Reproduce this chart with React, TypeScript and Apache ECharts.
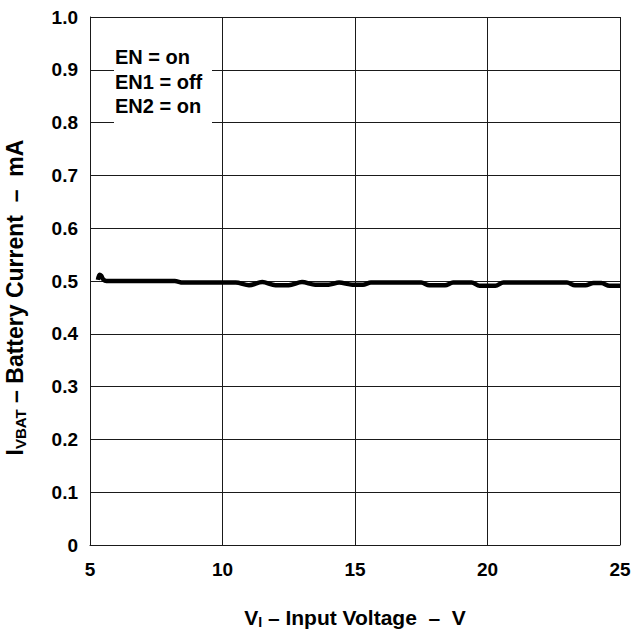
import React, { useEffect, useRef } from "react";
import * as echarts from "echarts";

const xTicks = [5, 10, 15, 20, 25];
const yTicks = [0, 0.1, 0.2, 0.3, 0.4, 0.5, 0.6, 0.7, 0.8, 0.9, 1.0];
const voltage = [
  5.3, 5.36, 5.42, 5.5, 5.62, 6, 7, 8.2, 8.5, 10.5, 11.0, 11.5, 12.0, 12.5, 13.0, 13.5, 14.0, 14.4,
  14.9, 15.3, 15.6, 17.5, 17.8, 18.4, 18.7, 19.4, 19.7, 20.3, 20.6, 23.0, 23.3, 23.7, 24.0, 24.3,
  24.6, 25.0,
];
const current = [
  0.502, 0.512, 0.51, 0.503, 0.5, 0.5, 0.5, 0.5, 0.497, 0.497, 0.492, 0.498, 0.492, 0.492, 0.498,
  0.493, 0.493, 0.497, 0.493, 0.493, 0.497, 0.497, 0.492, 0.492, 0.497, 0.497, 0.491, 0.491, 0.497,
  0.497, 0.492, 0.492, 0.496, 0.496, 0.491, 0.491,
];
const noteLines = ["EN = on", "EN1 = off", "EN2 = on"];

const FONT = "'Liberation Sans', Arial, sans-serif";

const xTitleRich = {
  a: { fontFamily: FONT, fontWeight: "bold", fontSize: 21, color: "#000", lineHeight: 24, verticalAlign: "middle" },
  sub: { fontFamily: FONT, fontWeight: "bold", fontSize: 14, color: "#000", lineHeight: 24, verticalAlign: "bottom", padding: [12, 0, 0, 0] },
};
const yTitleRich = {
  a: { fontFamily: FONT, fontWeight: "bold", fontSize: 23, color: "#000", lineHeight: 26, verticalAlign: "middle" },
  sub: { fontFamily: FONT, fontWeight: "bold", fontSize: 15, color: "#000", lineHeight: 26, verticalAlign: "bottom", padding: [13, 0, 0, 0] },
};

export default function App() {
  const ref = useRef<HTMLDivElement>(null);
  useEffect(() => {
    document.body.style.margin = "0";
    const chart = echarts.init(ref.current!, null, { renderer: "svg" });
    const gridColor = "#1a1a1a";
    chart.setOption({
      animation: false,
      backgroundColor: "#ffffff",
      grid: { left: 90, top: 17, width: 530, height: 528, show: false, outerBoundsMode: "none", containLabel: false },
      xAxis: {
        type: "value",
        min: xTicks[0],
        max: xTicks[xTicks.length - 1],
        interval: 5,
        axisLine: { show: true, lineStyle: { color: gridColor, width: 1 } },
        axisTick: { show: false },
        splitLine: { show: true, lineStyle: { color: gridColor, width: 1 } },
        axisLabel: {
          margin: 15,
          fontFamily: FONT,
          fontWeight: "bold",
          fontSize: 19,
          color: "#000",
        },
        name: "{a|V}{sub|I}{a| – Input Voltage  –  V}",
        nameLocation: "middle",
        nameGap: 60,
        nameTextStyle: { rich: xTitleRich },
      },
      yAxis: {
        type: "value",
        min: yTicks[0],
        max: yTicks[yTicks.length - 1],
        interval: 0.1,
        axisLine: { show: true, lineStyle: { color: gridColor, width: 1 } },
        axisTick: { show: false },
        splitLine: { show: true, lineStyle: { color: gridColor, width: 1 } },
        axisLabel: {
          margin: 12,
          fontFamily: FONT,
          fontWeight: "bold",
          fontSize: 19,
          color: "#000",
          formatter: (v: number) => (v === 0 ? "0" : v.toFixed(1)),
        },
        name: "{a|I}{sub|VBAT}{a| – Battery Current  –  mA}",
        nameLocation: "middle",
        nameGap: 62,
        nameTextStyle: { rich: yTitleRich, padding: [0, 33, 0, 0] },
      },
      series: [
        {
          type: "line",
          data: voltage.map((v, i) => [v, current[i]]),
          showSymbol: false,
          smooth: 0.3,
          lineStyle: { color: "#000", width: 4.5 },
        },
      ],
      graphic: [
        {
          type: "rect",
          left: 114,
          top: 44,
          shape: { width: 98, height: 80 },
          style: { fill: "#fff" },
          z: 10,
        },
        ...noteLines.map((t, i) => ({
          type: "text",
          left: 115,
          top: 47 + i * 24.5,
          z: 11,
          style: {
            text: t,
            fill: "#000",
            font: `bold 20px ${FONT}`,
          },
        })),
      ],
    });
    return () => chart.dispose();
  }, []);
  return <div ref={ref} style={{ width: 634, height: 637 }} />;
}
